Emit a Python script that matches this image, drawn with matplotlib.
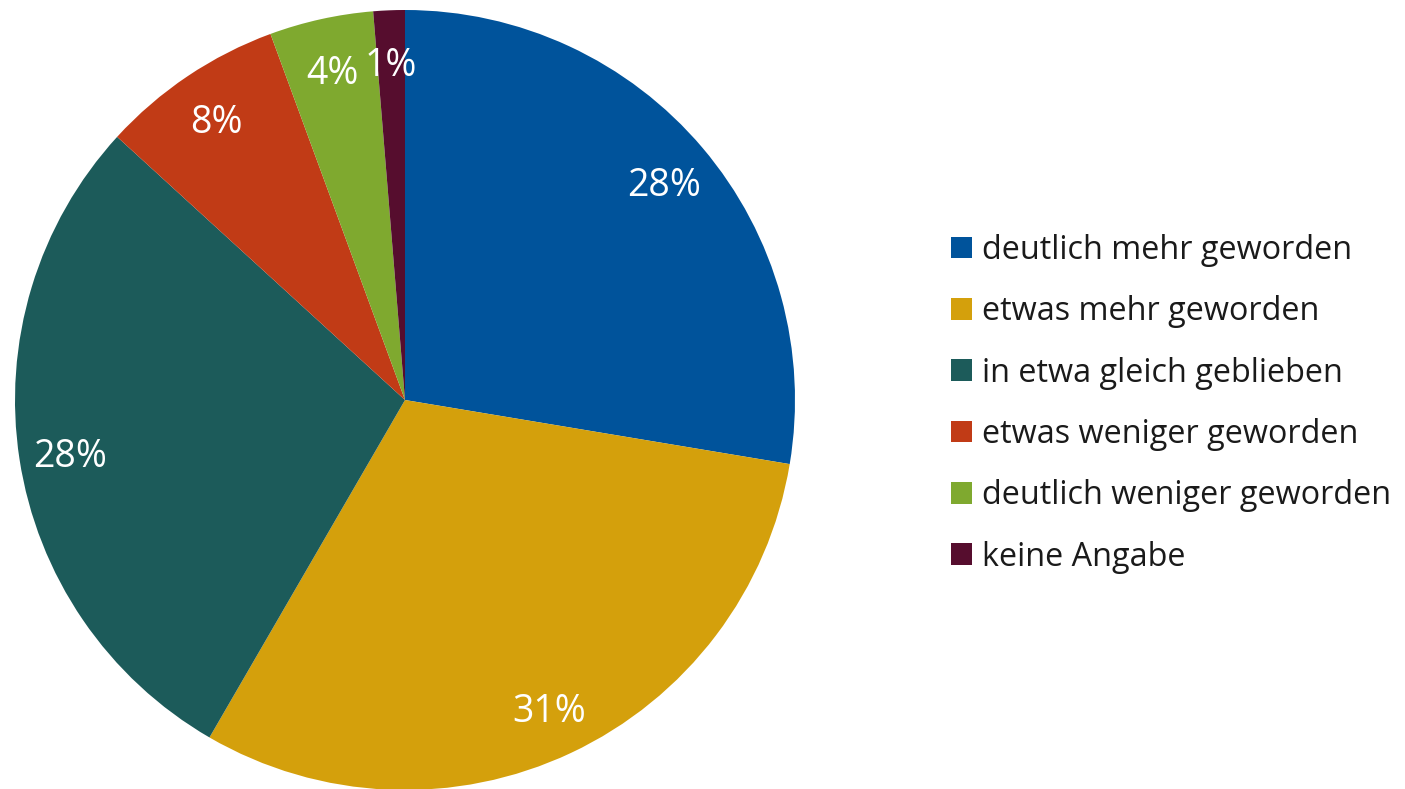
import matplotlib
matplotlib.use("Agg")
import matplotlib.pyplot as plt
import numpy as np

categories = ["deutlich mehr geworden", "etwas mehr geworden", "in etwa gleich geblieben",
              "etwas weniger geworden", "deutlich weniger geworden", "keine Angabe"]
values = [27.6, 30.7, 28.4, 7.6, 4.3, 1.3]
labels_pct = ["28%", "31%", "28%", "8%", "4%", "1%"]
colors = ["#00539B", "#D4A00C", "#1C5B5A", "#C13B16", "#7FA92F", "#560D2E"]

plt.rcParams['font.family'] = ['Open Sans', 'DejaVu Sans']

W, H = 1405, 789
fig = plt.figure(figsize=(W / 100, H / 100), dpi=100)
cx, cy, r = 405, 400, 390
ax = fig.add_axes([(cx - r) / W, (H - cy - r) / H, 2 * r / W, 2 * r / H])

wedges, texts = ax.pie(values, colors=colors, startangle=90, counterclock=False,
                       wedgeprops=dict(linewidth=0))
theta = 90.0
total = sum(values)
for w, v, lab in zip(wedges, values, labels_pct):
    mid = np.deg2rad(theta - v / total * 360 / 2)
    theta -= v / total * 360
    d = 0.87
    ax.text(d * np.cos(mid), d * np.sin(mid) - 5 / r, lab, ha='center', va='center',
            color='white', fontsize=27)
ax.set_xlim(-1, 1)
ax.set_ylim(-1, 1)
ax.set_aspect('equal')
ax.axis('off')

fs = 23.3
fpx = fs * 100 / 72
leg = fig.legend(wedges, categories, loc='upper left',
                 bbox_to_anchor=(951 / W, 1 - 234 / H), frameon=False, fontsize=fs,
                 handlelength=21 / fpx, handleheight=21 / fpx, handletextpad=10 / fpx,
                 labelspacing=0.875, borderpad=0, borderaxespad=0)
for t in leg.get_texts():
    t.set_color('#1a1a1a')

fig.savefig("out.png", dpi=100)
